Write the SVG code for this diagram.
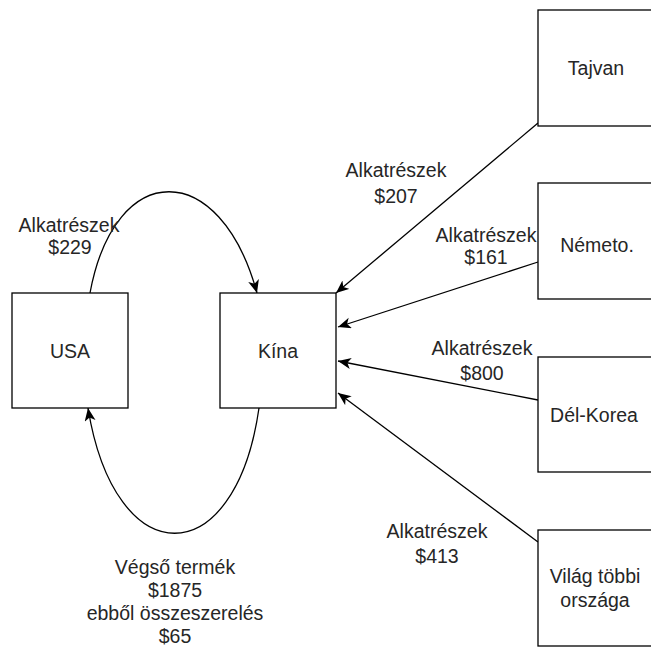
<svg xmlns="http://www.w3.org/2000/svg" width="651" height="647" viewBox="0 0 651 647">
<style>
.box{fill:#fff;stroke:#000;stroke-width:1.3}
.t{font-family:"Liberation Sans",Arial,sans-serif;font-size:19.5px;fill:#262626;text-anchor:middle}
.e{fill:none;stroke:#000;stroke-width:1.3;marker-end:url(#arr)}
</style>
<defs>
<marker id="arr" markerUnits="userSpaceOnUse" markerWidth="16" markerHeight="12" refX="13" refY="5.5" orient="auto">
<path d="M0,0 L13,5.5 L0,11 L3.5,5.5 z" fill="#000"/>
</marker>
</defs>
<rect width="651" height="647" fill="#fff"/>
<g id="connectors">
<path class="e" d="M90,293 C115,158 220,158 257,293"/>
<path class="e" d="M259,408 C235,575 115,575 88,408"/>
<path class="e" d="M538,123 L336,293"/>
<path class="e" d="M538,262 L338,327"/>
<path class="e" d="M538,400 L338,361"/>
<path class="e" d="M538,542 L338,393"/>
</g>
<g id="labels">
<text class="t" x="69" y="232">Alkatrészek</text>
<text class="t" x="70" y="254">$229</text>
<text class="t" x="396" y="177">Alkatrészek</text>
<text class="t" x="396" y="203">$207</text>
<text class="t" x="486" y="242">Alkatrészek</text>
<text class="t" x="486" y="264">$161</text>
<text class="t" x="482" y="355">Alkatrészek</text>
<text class="t" x="482" y="380">$800</text>
<text class="t" x="437" y="538">Alkatrészek</text>
<text class="t" x="437" y="563">$413</text>
<text class="t" x="175" y="574">Végső termék</text>
<text class="t" x="175" y="597">$1875</text>
<text class="t" x="175" y="620">ebből összeszerelés</text>
<text class="t" x="175" y="643">$65</text>
</g>
<g id="usa"><rect class="box" x="12" y="293" width="116" height="115"/><text class="t" x="70" y="358">USA</text></g>
<g id="kina"><rect class="box" x="220" y="293" width="116" height="115"/><text class="t" x="278" y="358">Kína</text></g>
<g id="tajvan"><rect class="box" x="538" y="10" width="116" height="116"/><text class="t" x="596" y="75">Tajvan</text></g>
<g id="nemeto"><rect class="box" x="538" y="183" width="116" height="116"/><text class="t" x="597" y="252">Németo.</text></g>
<g id="delkorea"><rect class="box" x="538" y="357" width="116" height="115"/><text class="t" x="594" y="422">Dél-Korea</text></g>
<g id="vilag"><rect class="box" x="538" y="530" width="116" height="116"/><text class="t" x="595" y="583">Világ többi</text><text class="t" x="595" y="607">országa</text></g>
</svg>
